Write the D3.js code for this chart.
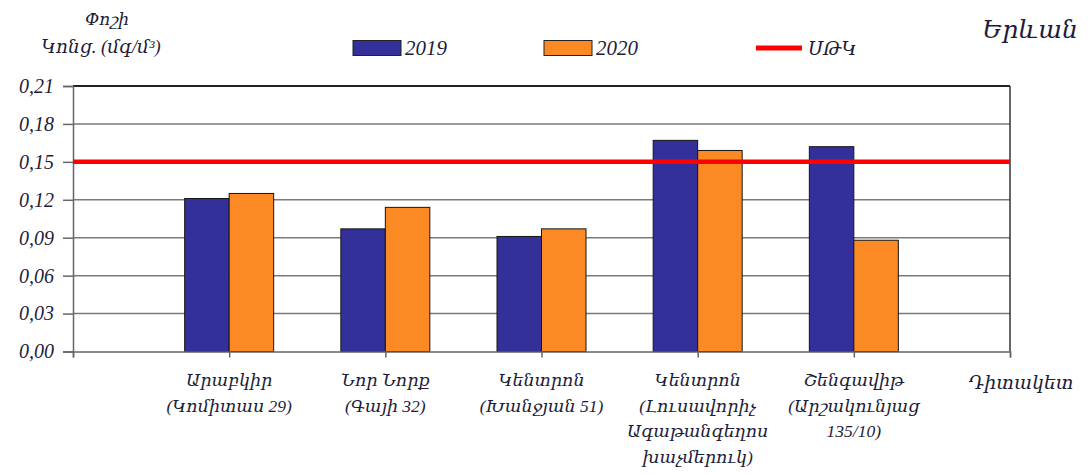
<!DOCTYPE html>
<html lang="hy">
<head>
  <meta charset="UTF-8">
  <title>Փոշի</title>
  <style>
    body { margin: 0; background: #fff; }
    svg text { font-family: "Liberation Serif", "DejaVu Serif", serif; font-style: italic; fill: #1d1d3a; }
  </style>
</head>
<body>
  <div id="chart"></div>
  <script src="https://cdn.jsdelivr.net/npm/d3@7"></script>
  <script>
    // data
    const stations = [
      ["Արաբկիր", "(Կոմիտաս 29)"],
      ["Նոր Նորք", "(Գայի 32)"],
      ["Կենտրոն", "(Խանջյան 51)"],
      ["Կենտրոն", "(Լուսավորիչ", "Ագաթանգեղոս", "խաչմերուկ)"],
      ["Շենգավիթ", "(Արշակունյաց", "135/10)"]
    ];
    const years = ["2019", "2020"];
    const values2019 = [0.121, 0.097, 0.091, 0.167, 0.162];
    const values2020 = [0.125, 0.114, 0.097, 0.159, 0.088];
    const limit = 0.15;
    const yTicks = [0, 0.03, 0.06, 0.09, 0.12, 0.15, 0.18, 0.21];
    const colors = { "2019": "#33309a", "2020": "#fb8a25" };

    const width = 1088, height = 475;
    const plotLeft = 73, plotRight = 1010, plotTop = 86, plotBottom = 351.5;

    const svg = d3.select('#chart').append('svg')
      .attr('width', width)
      .attr('height', height);

    const x = d3.scaleLinear().domain([0, stations.length + 1]).range([plotLeft, plotRight]);
    const y = d3.scaleLinear().domain([0, 0.21]).range([plotBottom, plotTop]);
    const inner = d3.scaleBand().domain(years).range([-44.5, 44.5]);

    // grid
    svg.append('g')
      .selectAll('line')
      .data(yTicks.slice(1))
      .join('line')
      .attr('x1', plotLeft).attr('x2', plotRight)
      .attr('y1', d => y(d)).attr('y2', d => y(d))
      .attr('stroke', d => d === 0.21 ? '#222' : '#7a7a7a')
      .attr('stroke-width', d => d === 0.21 ? 2 : 1.5);

    // y axis
    const yAxis = svg.append('g')
      .attr('transform', `translate(${plotLeft},0)`)
      .call(d3.axisLeft(y).tickValues(yTicks).tickSize(10).tickPadding(9)
        .tickFormat(d => d3.format('.2f')(d).replace('.', ',')));
    yAxis.select('.domain').attr('stroke', '#666').attr('stroke-width', 1.5);
    yAxis.selectAll('.tick line').attr('stroke', '#666').attr('stroke-width', 1.5);
    yAxis.selectAll('text').style('font-size', '20px').attr('fill', '#1d1d3a');

    // right border
    svg.append('line')
      .attr('x1', plotRight).attr('x2', plotRight)
      .attr('y1', plotTop).attr('y2', plotBottom)
      .attr('stroke', '#333').attr('stroke-width', 1.5);

    // bars
    const rows = stations.map((s, i) => ({ i, v: { "2019": values2019[i], "2020": values2020[i] } }));
    const groups = svg.append('g')
      .selectAll('g')
      .data(rows)
      .join('g')
      .attr('transform', d => `translate(${x(d.i + 1)},0)`);

    groups.selectAll('rect')
      .data(d => years.map(k => ({ k, v: d.v[k] })))
      .join('rect')
      .attr('x', d => inner(d.k))
      .attr('width', inner.bandwidth())
      .attr('y', d => y(d.v))
      .attr('height', d => y(0) - y(d.v))
      .attr('fill', d => colors[d.k])
      .attr('stroke', '#151515')
      .attr('stroke-width', 1);

    // x axis
    const xAxis = svg.append('g')
      .attr('transform', `translate(0,${plotBottom})`)
      .call(d3.axisBottom(x).tickValues(d3.range(0, stations.length + 2)).tickSize(6).tickFormat(''));
    xAxis.select('.domain').attr('stroke', '#666').attr('stroke-width', 1.5);
    xAxis.selectAll('.tick line').attr('stroke', '#666').attr('stroke-width', 1.5);

    // limit line
    svg.append('line')
      .attr('x1', plotLeft).attr('x2', plotRight)
      .attr('y1', y(limit)).attr('y2', y(limit))
      .attr('stroke', '#ff0000')
      .attr('stroke-width', 4.5);

    // category labels
    stations.forEach((lines, i) => {
      const t = svg.append('text')
        .attr('text-anchor', 'middle')
        .style('font-size', '17.5px');
      lines.forEach((s, j) => {
        t.append('tspan')
          .attr('x', x(i + 1))
          .attr('y', 386 + j * 25.5)
          .text(s);
      });
    });

    svg.append('text')
      .attr('x', 1021).attr('y', 389)
      .attr('text-anchor', 'middle')
      .style('font-size', '19px')
      .text('Դիտակետ');

    // titles
    svg.append('text')
      .attr('x', 107).attr('y', 25)
      .attr('text-anchor', 'middle')
      .style('font-size', '17px')
      .text('Փոշի');
    svg.append('text')
      .attr('x', 101).attr('y', 53)
      .attr('text-anchor', 'middle')
      .style('font-size', '18.5px')
      .text('Կոնց. (մգ/մ³)');

    svg.append('text')
      .attr('x', 1030).attr('y', 38)
      .attr('text-anchor', 'middle')
      .style('font-size', '25px')
      .text('Երևան');

    // legend
    const legend = [
      { label: '2019', x: 353, type: 'rect', color: colors["2019"] },
      { label: '2020', x: 544, type: 'rect', color: colors["2020"] },
      { label: 'ՍԹԿ', x: 756, type: 'line', color: '#ff0000' }
    ];
    legend.forEach(l => {
      if (l.type === 'rect') {
        svg.append('rect')
          .attr('x', l.x).attr('y', 40.5)
          .attr('width', 48).attr('height', 15)
          .attr('fill', l.color)
          .attr('stroke', '#222').attr('stroke-width', 1);
      } else {
        svg.append('line')
          .attr('x1', l.x).attr('x2', l.x + 46)
          .attr('y1', 48).attr('y2', 48)
          .attr('stroke', l.color).attr('stroke-width', 5);
      }
      svg.append('text')
        .attr('x', l.x + 52).attr('y', 55)
        .style('font-size', l.type === 'rect' ? '21px' : '19px')
        .text(l.label);
    });
  </script>
</body>
</html>
